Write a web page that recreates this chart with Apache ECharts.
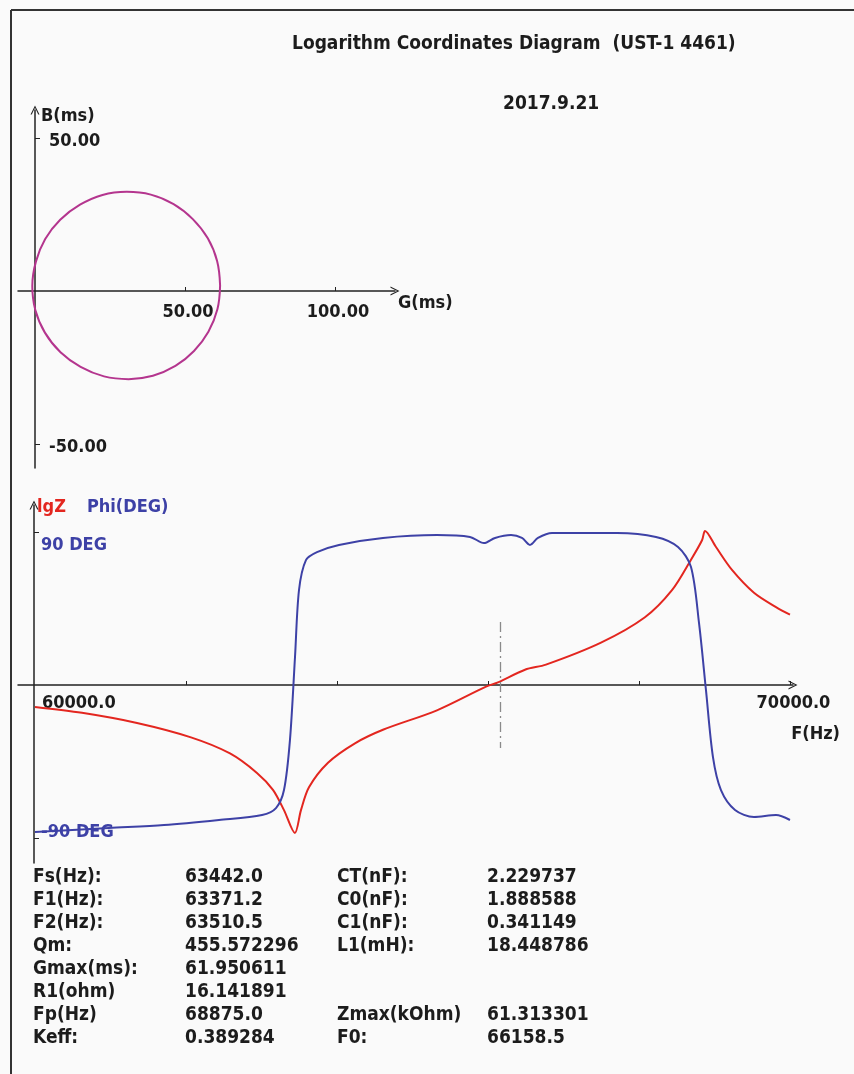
<!DOCTYPE html>
<html><head><meta charset="utf-8">
<script src="https://cdn.jsdelivr.net/npm/echarts@6/dist/echarts.min.js"></script>
<style>html,body{margin:0;padding:0;background:#fafafa}#c{width:854px;height:1074px}</style>
</head><body><div id="c"></div>
<script>
// ---- data ----
const circleG = [61.7, 60.7, 57.6, 52.6, 46.2, 38.6, 30.6, 22.5, 15.0, 8.4, 3.4, 0.3, -0.9, 0.1, 3.3, 8.5, 15.2, 23.0, 31.2, 39.3, 46.8, 53.0, 57.8, 60.8, 61.7];
const circleB = [1.8, 9.8, 17.2, 23.5, 28.4, 31.5, 32.4, 31.4, 28.2, 23.3, 17.0, 9.6, 1.6, -6.2, -13.6, -20.0, -24.8, -27.9, -28.8, -27.7, -24.5, -19.6, -13.3, -6.0, 1.8];

const freqPhi = [60000, 60980, 61709, 62437, 63007, 63192, 63298, 63377, 63444, 63497, 63589, 63735, 64026, 64609, 65324, 65762, 65947, 66093, 66305, 66450, 66556, 66662, 66848, 67709, 68225, 68517, 68689, 68795, 68887, 68980, 69086, 69272, 69523, 69815, 70000];
const phiDeg = [-86.5, -84.1, -82.4, -79.4, -76.5, -72.4, -61.8, -32.4, 16.5, 55.9, 73.5, 78.2, 82.4, 86.5, 88.2, 87.1, 83.5, 86.5, 88.2, 86.5, 82.4, 86.5, 89.4, 89.4, 87.1, 81.2, 69.4, 36.5, -2.9, -42.4, -61.8, -73.5, -77.6, -76.5, -79.4];

const freqZ = [60000, 60622, 61351, 62066, 62583, 62940, 63152, 63298, 63442, 63523, 63629, 63881, 64238, 64609, 65324, 65974, 66132, 66490, 66768, 67497, 68079, 68437, 68689, 68835, 68875, 69020, 69232, 69523, 69815, 70000];
const lgZ = [2.70, 2.63, 2.51, 2.34, 2.15, 1.92, 1.72, 1.48, 1.21, 1.48, 1.75, 2.04, 2.27, 2.43, 2.66, 2.94, 2.99, 3.14, 3.20, 3.46, 3.76, 4.08, 4.44, 4.67, 4.78, 4.59, 4.32, 4.05, 3.88, 3.79];

const gTicks = [50, 100];
const bTicks = [-50, 50];
const fTicks = [62000, 64000, 66000, 68000, 70000];
const fLabels = [60000, 70000];
const phiTicks = [-90, 90];
const F0 = 66158.5;

const titleText = 'Logarithm Coordinates Diagram  (UST-1 4461)';
const dateText = '2017.9.21';
const names1 = ['Fs(Hz):', 'F1(Hz):', 'F2(Hz):', 'Qm:', 'Gmax(ms):', 'R1(ohm)', 'Fp(Hz)', 'Keff:'];
const values1 = ['63442.0', '63371.2', '63510.5', '455.572296', '61.950611', '16.141891', '68875.0', '0.389284'];
const names2 = ['CT(nF):', 'C0(nF):', 'C1(nF):', 'L1(mH):', '', '', 'Zmax(kOhm)', 'F0:'];
const values2 = ['2.229737', '1.888588', '0.341149', '18.448786', '', '', '61.313301', '66158.5'];

// ---- rendering ----
const FONT = '"DejaVu Sans Condensed", "DejaVu Sans", sans-serif';
const TXT = '#1c1c1c';
const AX = '#222';
const RED = '#e3261f';
const BLUE = '#3d41a6';
const MAG = '#b4358e';
const ARROW = 'path://M0,10 L5,0 L10,10 L8.6,10 L5,2.6 L1.4,10 Z';

const chart = echarts.init(document.getElementById('c'));

const circleData = circleG.map((g, i) => [g, circleB[i]]);
const phiData = freqPhi.map((f, i) => [f, phiDeg[i]]);
const zData = freqZ.map((f, i) => [f, lgZ[i]]);

const lbl = { fontFamily: FONT, fontWeight: 'bold', fontSize: 18, color: TXT };

const graphics = [
  { type: 'line', shape: { x1: 11, y1: 10, x2: 854, y2: 10 }, style: { stroke: '#333', lineWidth: 2 }, silent: true },
  { type: 'line', shape: { x1: 11, y1: 10, x2: 11, y2: 1074 }, style: { stroke: '#333', lineWidth: 2 }, silent: true }
];
const colX = [33, 185, 337, 487];
names1.forEach((n, i) => {
  const y = 877 + 23 * i;
  [[n, colX[0]], [values1[i], colX[1]], [names2[i], colX[2]], [values2[i], colX[3]]].forEach(([t, x]) => {
    if (!t) return;
    graphics.push({ type: 'text', x: x, y: y, silent: true,
      style: { text: t, fill: TXT, font: 'bold 19px ' + FONT, verticalAlign: 'middle', align: 'left' } });
  });
});

chart.setOption({
  backgroundColor: '#fafafa',
  animation: false,
  title: [
    { text: titleText, left: 292, top: 35, padding: 0, textStyle: { fontFamily: FONT, fontWeight: 'bold', fontSize: 19, color: TXT } },
    { text: dateText, left: 503, top: 95, padding: 0, textStyle: { fontFamily: FONT, fontWeight: 'bold', fontSize: 19, color: TXT } }
  ],
  grid: [
    { left: 18, right: 459, top: 110, bottom: 606 },
    { left: 18, right: 61, top: 505, bottom: 211 }
  ],
  xAxis: [
    { type: 'value', gridIndex: 0, min: -5.667, max: 120,
      name: 'G(ms)', nameLocation: 'end', nameGap: 3,
      nameTextStyle: Object.assign({}, lbl, { align: 'left', verticalAlign: 'top', padding: [3, 0, 0, 0] }),
      axisLine: { onZero: true, symbol: ['none', ARROW], symbolSize: [9, 9], lineStyle: { color: AX, width: 1.5 } },
      axisTick: { show: true, inside: true, length: 4, customValues: gTicks, lineStyle: { color: AX } },
      axisLabel: Object.assign({}, lbl, { customValues: gTicks, margin: -165, padding: [0, 0, 0, 6], formatter: v => v.toFixed(2) }),
      splitLine: { show: false } },
    { type: 'value', gridIndex: 1, min: 59775, max: 70040,
      name: 'F(Hz)', nameLocation: 'end', nameGap: 47,
      nameTextStyle: Object.assign({}, lbl, { align: 'right', verticalAlign: 'top', padding: [40, 0, 0, 0] }),
      axisLine: { onZero: true, onZeroAxisIndex: 1, symbol: ['none', ARROW], symbolSize: [9, 9], lineStyle: { color: AX, width: 1.5 } },
      axisTick: { show: true, inside: true, length: 4, customValues: fTicks, lineStyle: { color: AX } },
      axisLabel: Object.assign({}, lbl, { customValues: fLabels, margin: -169, padding: [0, 0, 0, 7], alignMinLabel: 'left', formatter: v => v.toFixed(1) }),
      splitLine: { show: false } }
  ],
  yAxis: [
    { type: 'value', gridIndex: 0, min: -57.84, max: 59.15,
      name: 'B(ms)', nameLocation: 'end', nameGap: 3,
      nameTextStyle: Object.assign({}, lbl, { align: 'left', verticalAlign: 'top', padding: [0, 0, 0, 6] }),
      axisLine: { onZero: true, symbol: ['none', ARROW], symbolSize: [9, 9], lineStyle: { color: AX, width: 1.5 } },
      axisTick: { show: true, inside: true, length: 5, customValues: bTicks, lineStyle: { color: AX } },
      axisLabel: { inside: true, customValues: bTicks, margin: 31, verticalAlign: 'middle',
        formatter: v => '{a|' + v.toFixed(2) + '}',
        rich: { a: Object.assign({}, lbl, { padding: [7, 0, 0, 0] }) } },
      splitLine: { show: false } },
    { type: 'value', gridIndex: 1, min: -104.7, max: 105.9, position: 'left', offset: -16,
      name: '{r|lgZ}{b|Phi(DEG)}', nameLocation: 'end', nameGap: -2,
      nameTextStyle: { align: 'left', verticalAlign: 'middle', padding: [0, 0, 0, 3],
        rich: { r: { color: RED, fontFamily: FONT, fontWeight: 'bold', fontSize: 18 }, b: { color: BLUE, fontFamily: FONT, fontWeight: 'bold', fontSize: 18, padding: [0, 0, 0, 21] } } },
      axisLine: { show: true, onZero: false, symbol: ['none', ARROW], symbolSize: [9, 9], lineStyle: { color: AX, width: 1.5 } },
      axisTick: { show: true, inside: true, length: 5, customValues: phiTicks, lineStyle: { color: AX } },
      axisLabel: { inside: true, customValues: phiTicks, margin: 7, verticalAlign: 'middle',
        formatter: v => v > 0 ? '{p|' + v + ' DEG}' : '{n|' + v + ' DEG}',
        rich: { p: { color: BLUE, fontFamily: FONT, fontWeight: 'bold', fontSize: 18, padding: [26, 0, 0, 0] },
                n: { color: BLUE, fontFamily: FONT, fontWeight: 'bold', fontSize: 18, padding: [0, 0, 12, 0] } } },
      splitLine: { show: false } },
    { type: 'value', gridIndex: 1, min: 0.855, max: 5.087, show: false, splitLine: { show: false } }
  ],
  series: [
    { type: 'line', name: 'Admittance', xAxisIndex: 0, yAxisIndex: 0, data: circleData,
      smooth: 0.4, showSymbol: false, lineStyle: { color: MAG, width: 2 }, itemStyle: { color: MAG }, silent: true },
    { type: 'line', name: 'lgZ', xAxisIndex: 1, yAxisIndex: 2, data: zData,
      smooth: 0.3, showSymbol: false, lineStyle: { color: RED, width: 2 }, itemStyle: { color: RED }, silent: true },
    { type: 'line', name: 'Phi', xAxisIndex: 1, yAxisIndex: 1, data: phiData,
      smooth: 0.3, showSymbol: false, lineStyle: { color: BLUE, width: 2 }, itemStyle: { color: BLUE }, silent: true,
      markLine: { silent: true, symbol: ['none', 'none'], label: { show: false },
        lineStyle: { color: '#8a8a8a', type: [10, 4, 2, 4], width: 1.3 },
        data: [[{ coord: [F0, 37] }, { coord: [F0, -37] }]] } }
  ],
  graphic: graphics
});
</script>
</body></html>
